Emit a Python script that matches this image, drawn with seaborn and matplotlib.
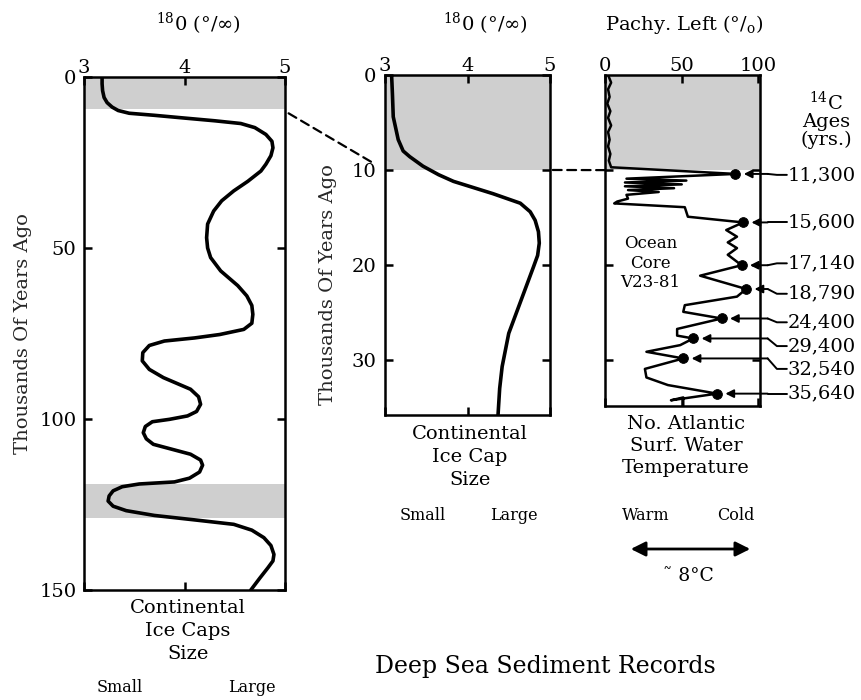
import matplotlib
matplotlib.use("Agg")
import matplotlib.pyplot as plt
from matplotlib.patches import ConnectionPatch, FancyArrowPatch
import seaborn as sns
import pandas as pd

# ---------------- data ----------------
# Left panel: 18O record (per mil) vs. thousands of years ago (0-150)
left_depth = [0, 2, 4, 6, 7.5, 8.8, 9.8, 10.6, 11.2, 11.9, 12.8, 13.6, 14.8, 16.8, 18.8, 20.7, 23,
              25.5, 27.5, 30.5, 33.3, 36.2, 39.2, 43, 47, 50, 52.8, 56.7, 61, 64, 66.8, 69.4, 72,
              73.8, 75.3, 76.3, 77.2, 78.5, 80.6, 83, 85.5, 87.9, 91.3, 93.5, 95.7, 97.8, 99.1,
              100.1, 100.8, 102.2, 104, 105.8, 107.4, 110.3, 112, 113.5, 115.5, 117.3, 118.4, 119,
              119.8, 121, 122.5, 124, 125.5, 126.8, 128.2, 129.5, 130.8, 132.5, 134.7, 137, 139.6,
              141.5, 143.5, 146.5, 150]
left_d18o = [3.18, 3.18, 3.185, 3.20, 3.23, 3.28, 3.34, 3.45, 3.70, 3.96, 4.30, 4.56, 4.70, 4.81,
             4.87, 4.88, 4.86, 4.81, 4.76, 4.63, 4.49, 4.37, 4.29, 4.23, 4.22, 4.23, 4.26, 4.36,
             4.53, 4.62, 4.67, 4.68, 4.67, 4.59, 4.35, 4.10, 3.80, 3.65, 3.585, 3.58, 3.65, 3.79,
             4.06, 4.14, 4.16, 4.12, 4.03, 3.85, 3.68, 3.61, 3.59, 3.62, 3.69, 4.06, 4.16, 4.18,
             4.15, 4.05, 3.90, 3.55, 3.38, 3.29, 3.25, 3.24, 3.29, 3.42, 3.70, 4.10, 4.49, 4.67,
             4.79, 4.86, 4.89, 4.88, 4.83, 4.75, 4.66]
left_bands = [(0, 9.5), (119, 129)]

# Middle panel: 18O record, 0-36 kyr
mid_depth = [0, 2, 4.4, 6.8, 8.0, 8.6, 9.6, 10.5, 11.2, 12.5, 13.5, 14.4, 15.3, 16.5, 17.7, 19.0,
             20.2, 23.0, 27.2, 30.7, 33.0, 35.8]
mid_d18o = [3.08, 3.09, 3.10, 3.16, 3.22, 3.30, 3.46, 3.65, 3.83, 4.31, 4.64, 4.76, 4.82, 4.86,
            4.87, 4.85, 4.80, 4.68, 4.50, 4.42, 4.39, 4.37]
mid_bands = [(0, 10)]

# Right panel: Pachyderma left-coiling (%), ocean core V23-81
right_depth = [0, 0.8, 1.5, 2.3, 3.0, 3.8, 4.5, 5.3, 6.0, 6.8, 7.5, 8.3, 9.0, 9.7, 10.4, 10.9,
               11.1, 11.3, 11.5, 11.7, 11.9, 12.1, 12.3, 12.6, 13.0, 13.3, 13.5, 13.9, 14.9, 15.5,
               16.3, 17.0, 17.6, 18.2, 18.9, 20.0, 21.1, 22.5, 23.3, 24.2, 24.9, 25.6, 26.7, 27.4,
               27.7, 28.4, 29.1, 29.8, 30.9, 31.8, 32.6, 33.5, 34.2, 33.9, 34.8]
right_pachy = [2, 4, 2, 3, 1.5, 3.5, 2, 4, 2, 3, 2, 3.5, 2.5, 4, 85, 14, 53, 13, 50, 13, 45, 15,
               35, 14, 15, 8, 6, 52, 54, 90, 79, 86, 80, 86, 80, 89, 62, 92, 86, 52, 51, 76, 47,
               47, 57.5, 49, 27, 51, 26, 27, 41, 73, 43, 51, 51]
right_bands = [(0, 10)]

# 14C dated levels
c14_ages = ["11,300", "15,600", "17,140", "18,790", "24,400", "29,400", "32,540", "35,640"]
c14_depth = [10.4, 15.5, 20.0, 22.5, 25.6, 27.7, 29.8, 33.5]
c14_pachy = [85, 90, 89, 92, 76, 57.5, 51, 73]
c14_label_depth = [10.5, 15.5, 19.8, 23.0, 26.0, 28.5, 30.9, 33.5]

left_yticks = [0, 50, 100, 150]
mid_yticks = [0, 10, 20, 30]
right_yticks = [10, 20, 30]
d18o_ticks = [3, 4, 5]
pachy_ticks = [0, 50, 100]

# ---------------- style ----------------
sns.set_theme(style="white")
plt.rcParams['font.family'] = ['DejaVu Serif']
plt.rcParams['mathtext.fontset'] = 'dejavuserif'
plt.rcParams['mathtext.default'] = 'regular'
plt.rcParams['text.color'] = 'black'
plt.rcParams['xtick.color'] = 'black'
plt.rcParams['ytick.color'] = 'black'

W, H = 862, 700
fig = plt.figure(figsize=(W / 100, H / 100), dpi=100)


def rect(l, t, r, b):
    return [l / W, 1 - b / H, (r - l) / W, (b - t) / H]


def fx(x):
    return x / W


def fy(y):
    return 1 - y / H


ax1 = fig.add_axes(rect(84, 77, 285, 590))
ax2 = fig.add_axes(rect(385, 75, 550, 415))
ax3 = fig.add_axes(rect(605, 75, 760, 406))

shade = '#cfcfcf'

df_left = pd.DataFrame({"depth": left_depth, "d18o": left_d18o})
df_mid = pd.DataFrame({"depth": mid_depth, "d18o": mid_d18o})
df_right = pd.DataFrame({"depth": right_depth, "pachy": right_pachy})

for a, b in left_bands:
    ax1.axhspan(a, b, color=shade, lw=0, zorder=0)
for a, b in mid_bands:
    ax2.axhspan(a, b, color=shade, lw=0, zorder=0)
for a, b in right_bands:
    ax3.axhspan(a, b, color=shade, lw=0, zorder=0)

sns.lineplot(data=df_left, x="d18o", y="depth", orient="y", sort=False, estimator=None,
             color="black", lw=2.6, ax=ax1)
sns.lineplot(data=df_mid, x="d18o", y="depth", orient="y", sort=False, estimator=None,
             color="black", lw=2.6, ax=ax2)
sns.lineplot(data=df_right, x="pachy", y="depth", orient="y", sort=False, estimator=None,
             color="black", lw=1.8, ax=ax3)
sns.scatterplot(x=c14_pachy, y=c14_depth, ax=ax3, color="black", s=50, edgecolor="black",
                zorder=5)

ax1.set_xlim(3, 5)
ax1.set_ylim(150, 0)
ax1.set_xticks(d18o_ticks)
ax1.set_yticks(left_yticks)
ax2.set_xlim(3, 5)
ax2.set_ylim(35.8, 0)
ax2.set_xticks(d18o_ticks)
ax2.set_yticks(mid_yticks)
ax3.set_xlim(0, 101)
ax3.set_ylim(34.8, 0)
ax3.set_xticks(pachy_ticks)
ax3.set_yticks(right_yticks)

for ax in (ax1, ax2, ax3):
    for s in ax.spines.values():
        s.set_linewidth(1.8)
        s.set_color("black")
    ax.tick_params(axis="both", which="both", direction="in", length=6, width=1.8,
                   top=True, bottom=True, left=True, right=True,
                   labeltop=True, labelbottom=False, labelsize=14)
    ax.tick_params(axis="x", pad=0)
    ax.set_xlabel("")
    ax.set_ylabel("")

ax1.tick_params(axis="y", pad=5.5)
ax2.tick_params(axis="y", pad=6.5)
ax3.tick_params(axis="y", labelleft=False)

ax1.set_ylabel("Thousands Of Years Ago", fontsize=14)
ax1.yaxis.set_label_coords(-0.259, 0.5)
ax2.set_ylabel("Thousands Of Years Ago", fontsize=14)
ax2.yaxis.set_label_coords(-0.29, 0.385)

# dashed connectors at 10 kyr
con1 = ConnectionPatch(xyA=(5, 10), coordsA="data", axesA=ax1,
                       xyB=(3, 10), coordsB="data", axesB=ax2,
                       color="black", lw=1.6, linestyle=(0, (4, 2.5)), shrinkA=3, shrinkB=11)
fig.add_artist(con1)
con2 = ConnectionPatch(xyA=(5, 10), coordsA="data", axesA=ax2,
                       xyB=(0, 10), coordsB="data", axesB=ax3,
                       color="black", lw=1.6, linestyle=(0, (4, 2.5)), shrinkA=2, shrinkB=0)
fig.add_artist(con2)

# 14C age labels with arrows
for age, d, p, ld in zip(c14_ages, c14_depth, c14_pachy, c14_label_depth):
    ax3.plot([118.5, 112, 106], [ld, ld, d], color="black", lw=1.4, clip_on=False)
    ax3.annotate("", xy=(p, d), xytext=(106, d), xycoords="data", textcoords="data",
                 arrowprops=dict(arrowstyle="-|>", color="black", lw=1.4, shrinkA=0, shrinkB=6,
                                 mutation_scale=12),
                 annotation_clip=False)
    ax3.text(119.2, ld, age, ha="left", va="center", fontsize=14, clip_on=False)

ax3.text(29.5, 19.8, "Ocean\nCore\nV23-81", ha="center", va="center", fontsize=12,
         linespacing=1.2)

# titles / annotations
fig.text(fx(198), fy(24), r"$^{18}$0 (°/∞)", ha="center", va="center", fontsize=14)
fig.text(fx(485), fy(24), r"$^{18}$0 (°/∞)", ha="center", va="center", fontsize=14)
fig.text(fx(684), fy(24), r"Pachy. Left (°/$_{o}$)", ha="center", va="center", fontsize=14)
fig.text(fx(826), fy(120), "$^{14}$C\nAges\n(yrs.)", ha="center", va="center", fontsize=14,
         linespacing=0.95)

fig.text(fx(188), fy(599), "Continental\nIce Caps\nSize", ha="center", va="top", fontsize=14,
         linespacing=1.35)
fig.text(fx(120), fy(688), "Small", ha="center", va="center", fontsize=11.5)
fig.text(fx(252), fy(688), "Large", ha="center", va="center", fontsize=11.5)

fig.text(fx(470), fy(425), "Continental\nIce Cap\nSize", ha="center", va="top", fontsize=14,
         linespacing=1.35)
fig.text(fx(423), fy(515), "Small", ha="center", va="center", fontsize=11.5)
fig.text(fx(514), fy(515), "Large", ha="center", va="center", fontsize=11.5)

fig.text(fx(686), fy(415), "No. Atlantic\nSurf. Water\nTemperature", ha="center", va="top",
         fontsize=14, linespacing=1.3)
fig.text(fx(646), fy(515), "Warm", ha="center", va="center", fontsize=11.5)
fig.text(fx(736), fy(515), "Cold", ha="center", va="center", fontsize=11.5)
fig.add_artist(FancyArrowPatch((fx(628), fy(549)), (fx(753), fy(549)),
                               transform=fig.transFigure, arrowstyle="<|-|>",
                               mutation_scale=22, lw=2, color="black"))
fig.text(fx(688), fy(576), "˜ 8°C", ha="center", va="center", fontsize=13.5)

fig.text(fx(545), fy(667), "Deep Sea Sediment Records", ha="center", va="center", fontsize=17)

fig.savefig("out.png", dpi=100)
